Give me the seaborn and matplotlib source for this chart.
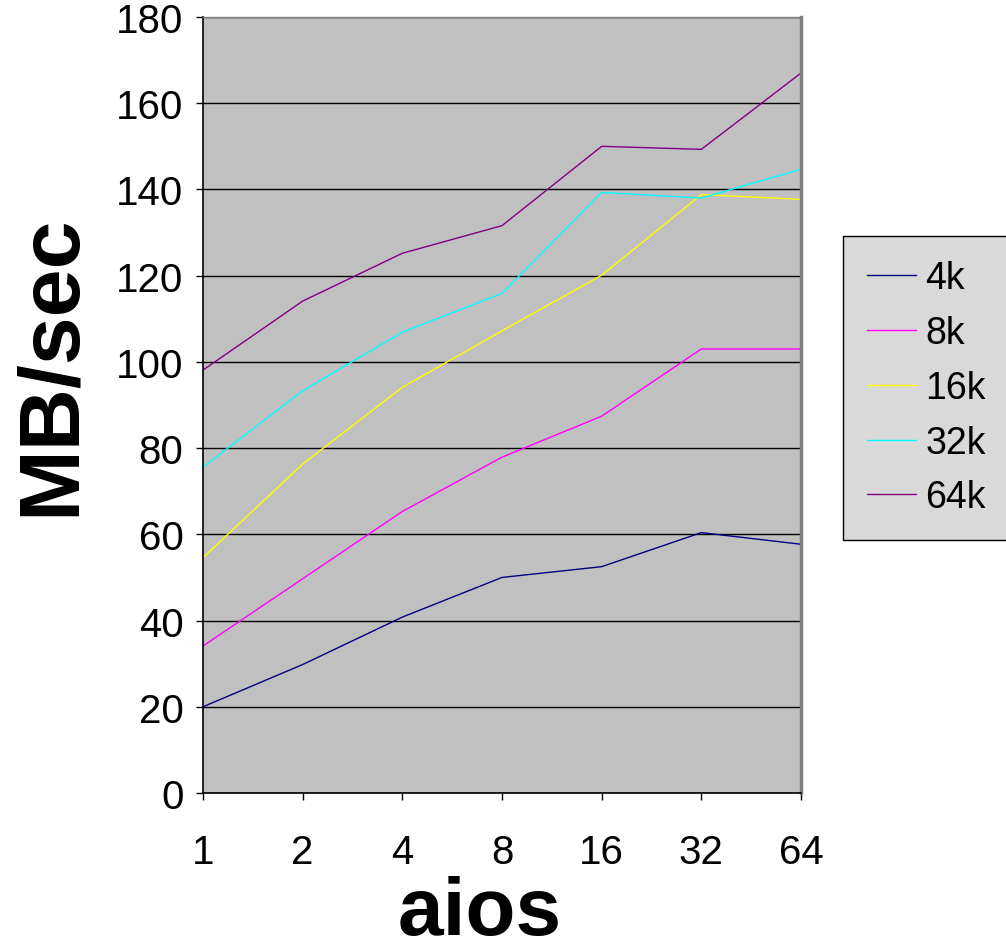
import matplotlib
matplotlib.use('Agg')
import matplotlib.pyplot as plt
import seaborn as sns
import pandas as pd

# aios on the x axis (categorical), throughput per block size
aios = ['1', '2', '4', '8', '16', '32', '64']
sizes = ['4k', '8k', '16k', '32k', '64k']
mb_4k = [20.0, 29.8, 40.8, 50.0, 52.5, 60.4, 57.7]
mb_8k = [34.1, 49.7, 65.3, 77.9, 87.4, 103.0, 103.0]
mb_16k = [54.6, 76.3, 94.1, 107.2, 120.1, 138.8, 137.7]
mb_32k = [75.6, 93.3, 106.9, 115.9, 139.3, 138.0, 144.7]
mb_64k = [98.1, 114.1, 125.2, 131.6, 150.0, 149.3, 167.0]
colors = ['#000080', '#FF00FF', '#FFFF00', '#00FFFF', '#800080']

series = [mb_4k, mb_8k, mb_16k, mb_32k, mb_64k]
rows = []
for s, vals in zip(sizes, series):
    for i, v in enumerate(vals):
        rows.append({'pos': i, 'aios': aios[i], 'size': s, 'mbs': v})
df = pd.DataFrame(rows)

sns.set_style('white')
plt.rcParams['font.family'] = ['Liberation Sans', 'DejaVu Sans']
plt.rcParams['text.color'] = 'black'
plt.rcParams['axes.labelcolor'] = 'black'
plt.rcParams['xtick.color'] = 'black'
plt.rcParams['ytick.color'] = 'black'

fig = plt.figure(figsize=(10.06, 9.53), dpi=100)
ax = fig.add_axes([203/1006, 1 - 794/953, 598/1006, 776/953])
ax.set_facecolor('#C0C0C0')

sns.lineplot(data=df, x='pos', y='mbs', hue='size', hue_order=sizes,
             palette=colors, linewidth=1.0, ax=ax, legend=True)

ax.set_xlim(0, 6)
ax.set_ylim(0, 180)
ax.set_yticks(range(0, 181, 20))
ax.set_xticks(range(len(aios)))
ax.set_xticklabels(aios)
ax.grid(axis='y', color='black', linewidth=1.0)
ax.set_axisbelow(True)

for side in ['left', 'bottom']:
    ax.spines[side].set_color('black')
    ax.spines[side].set_linewidth(1.2)
ax.spines['right'].set_color('#808080')
ax.spines['right'].set_linewidth(2.5)
ax.spines['top'].set_color('#808080')
ax.spines['top'].set_linewidth(1.0)

ax.tick_params(axis='y', labelsize=29, length=5, width=1, pad=9, left=True)
ax.tick_params(axis='x', labelsize=29, length=5, width=1, pad=24, bottom=True)

ax.set_ylabel('MB/sec', fontsize=62, fontweight='bold', va='center', ha='center')
ax.yaxis.set_label_coords(-0.2525, 0.553)
ax.set_xlabel('aios', fontsize=59, fontweight='bold', va='center', ha='center')
ax.xaxis.set_label_coords(0.463, -0.154)

handles, labels = ax.get_legend_handles_labels()
leg = ax.legend(handles, labels, loc='upper left', bbox_to_anchor=(843/1006, 1 - 237/953),
                bbox_transform=fig.transFigure, fontsize=27, frameon=True, fancybox=False,
                handlelength=1.3, handletextpad=0.25, labelspacing=0.5, borderpad=0.65,
                borderaxespad=0)
leg.get_frame().set_facecolor('#D9D9D9')
leg.get_frame().set_edgecolor('black')
leg.get_frame().set_linewidth(1.0)
leg.get_frame().set_alpha(1)

fig.savefig('out.png', dpi=100)
